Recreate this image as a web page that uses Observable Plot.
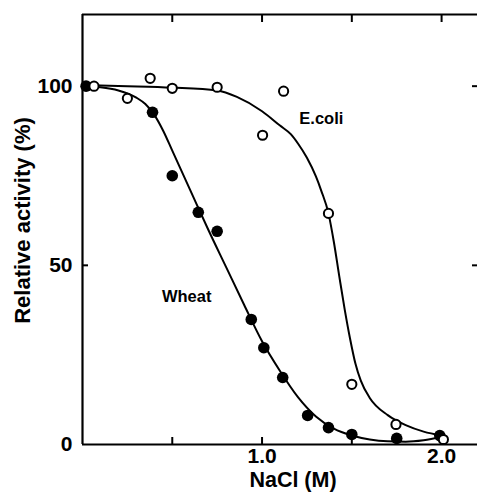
<!DOCTYPE html>
<html><head><meta charset="utf-8">
<script src="https://cdn.jsdelivr.net/npm/d3@7"></script>
<script src="https://cdn.jsdelivr.net/npm/@observablehq/plot@0.6"></script>
<style>
body{margin:0;background:#fff}
svg{font-family:"Liberation Sans",Arial,Helvetica,sans-serif}
</style>
</head><body><div id="chart"></div>
<script>
// Measured points
const wheatX = [0.02, 0.39, 0.5, 0.645, 0.75, 0.94, 1.01, 1.115, 1.254, 1.37, 1.5, 1.75, 1.99];
const wheatY = [100, 92.7, 75, 64.8, 59.5, 34.9, 27, 18.7, 8.1, 4.7, 2.8, 1.7, 2.5];
const ecoliX = [0.064, 0.25, 0.377, 0.5, 0.75, 1.003, 1.12, 1.37, 1.5, 1.746, 2.01];
const ecoliY = [100, 96.6, 102.2, 99.4, 99.7, 86.3, 98.6, 64.5, 16.8, 5.6, 1.4];

// Fitted curves
const wheatCurveX = [0, 0.1, 0.2, 0.3, 0.35, 0.4, 0.45, 0.5, 0.6, 0.7, 0.8, 0.9, 1.0, 1.1, 1.2, 1.3, 1.4, 1.5, 1.6, 1.7, 1.8, 1.9, 2.0];
const wheatCurveY = [100, 99.7, 98.8, 96.8, 95, 92, 87.5, 82, 71, 60, 49.5, 39, 28.8, 20.5, 13.2, 7.8, 4.4, 2.5, 1.4, 0.9, 0.8, 1.2, 2.1];
const ecoliCurveX = [0, 0.25, 0.5, 0.75, 0.86, 1.0, 1.1, 1.16, 1.2, 1.25, 1.3, 1.33, 1.37, 1.4, 1.43, 1.46, 1.49, 1.52, 1.55, 1.6, 1.7, 1.8, 1.9, 2.0];
const ecoliCurveY = [100.3, 100, 99.6, 98.8, 97, 93, 89, 86.6, 84, 80, 74.8, 70.8, 64.5, 56.5, 47, 37.8, 29.6, 22.6, 17.8, 13, 8.2, 5.4, 3.6, 2.5];

// Axis ticks & labels
const xTicks = [0.5, 1.0, 1.5, 2.0];
const xTickLabels = [1.0, 2.0];
const yTicks = [0, 50, 100];
const yInnerTicks = [50, 100];
const seriesLabels = [
  {name: "E.coli", x: 1.33, y: 91},
  {name: "Wheat", x: 0.58, y: 41.3}
];

const wheatPts = wheatX.map((x, i) => ({x, y: wheatY[i]}));
const ecoliPts = ecoliX.map((x, i) => ({x, y: ecoliY[i]}));
const wheatCurve = wheatCurveX.map((x, i) => ({x, y: wheatCurveY[i]}));
const ecoliCurve = ecoliCurveX.map((x, i) => ({x, y: ecoliCurveY[i]}));

const chart = Plot.plot({
  width: 477,
  height: 493,
  marginLeft: 82,
  marginRight: 0,
  marginTop: 14,
  marginBottom: 49,
  x: {domain: [0, 2.2]},
  y: {domain: [0, 120]},
  style: {fontFamily: '"Liberation Sans", Arial, sans-serif', color: "#000", background: "#fff"},
  marks: [
    // frame lines
    Plot.ruleX([0], {stroke: "#000", strokeWidth: 2.2}),
    Plot.ruleY([0], {stroke: "#000", strokeWidth: 2.2}),
    Plot.ruleY([120], {stroke: "#000", strokeWidth: 2.2}),
    // inward ticks
    Plot.axisX({anchor: "bottom", ticks: xTicks, tickSize: -7, strokeWidth: 2, tickFormat: () => "", label: null}),
    Plot.axisX({anchor: "top", ticks: xTicks, tickSize: -7, strokeWidth: 2, tickFormat: () => "", label: null}),
    Plot.axisY({anchor: "left", ticks: yInnerTicks, tickSize: -6, strokeWidth: 2, tickFormat: () => "", label: null}),
    Plot.axisY({anchor: "right", ticks: yInnerTicks, tickSize: -6, strokeWidth: 2, tickFormat: () => "", label: null}),
    // tick labels
    Plot.axisX({anchor: "bottom", ticks: xTickLabels, tickSize: 0, tickPadding: 4, tickFormat: d3.format(".1f"), fontSize: 21, fontWeight: "bold", label: null}),
    Plot.axisY({anchor: "left", ticks: yTicks, tickSize: 0, tickPadding: 10, fontSize: 21, fontWeight: "bold", label: null}),
    // axis titles
    Plot.text(["NaCl (M)"], {frameAnchor: "bottom", dx: 13, dy: 36, fontSize: 21.5, fontWeight: "bold", textAnchor: "middle", lineAnchor: "middle"}),
    Plot.text(["Relative activity (%)"], {frameAnchor: "left", dx: -60, dy: -9, rotate: -90, fontSize: 22, fontWeight: "bold", textAnchor: "middle", lineAnchor: "middle"}),
    // curves
    Plot.line(wheatCurve, {x: "x", y: "y", curve: "monotone-x", stroke: "#000", strokeWidth: 2}),
    Plot.line(ecoliCurve, {x: "x", y: "y", curve: "monotone-x", stroke: "#000", strokeWidth: 2}),
    // points
    Plot.dot(wheatPts, {x: "x", y: "y", r: 5.8, fill: "#000", stroke: "none"}),
    Plot.dot(ecoliPts, {x: "x", y: "y", r: 4.6, fill: "#fff", stroke: "#000", strokeWidth: 2}),
    // series labels
    Plot.text(seriesLabels, {x: "x", y: "y", text: "name", fontSize: 16.5, fontWeight: "bold", textAnchor: "middle", lineAnchor: "middle"})
  ]
});
document.getElementById("chart").append(chart);
</script>
</body></html>
